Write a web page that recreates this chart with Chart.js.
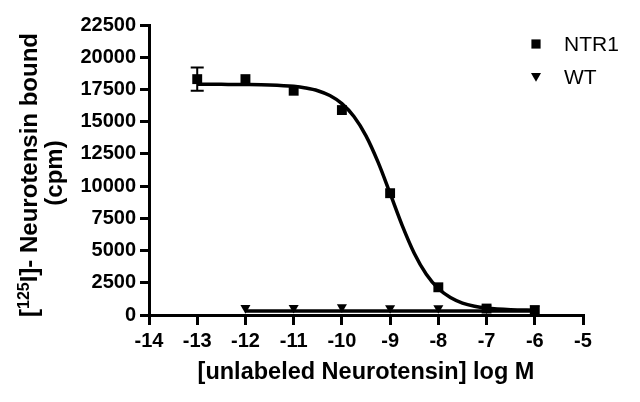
<!DOCTYPE html>
<html>
<head>
<meta charset="utf-8">
<script src="https://cdn.jsdelivr.net/npm/chart.js@4.4.1/dist/chart.umd.min.js"></script>
<style>
  html, body { margin: 0; padding: 0; background: #fff; }
  #c { display: block; }
</style>
</head>
<body>
<canvas id="c" width="640" height="402"></canvas>
<script>
// ---------- data ----------
const logConc = [-13, -12, -11, -10, -9, -8, -7, -6];
const ntr1 = [18300, 18300, 17400, 15900, 9450, 2150, 500, 380];
const ntr1Err = [900, 0, 0, 0, 0, 0, 0, 0];

const wtConc = [-12, -11, -10, -9, -8, -7, -6];
const wt = [550, 560, 600, 540, 540, 520, 500];

// fitted curve
const curveX = [-13, -12.5, -12, -11.5, -11, -10.75, -10.5, -10.25, -10, -9.75, -9.5, -9.25, -9, -8.75, -8.5, -8.25, -8, -7.75, -7.5, -7.25, -7, -6.5, -6];
const curveY = [17900, 17895, 17885, 17850, 17740, 17610, 17400, 17025, 16400, 15400, 13900, 11860, 9430, 6950, 4790, 3160, 2050, 1350, 925, 680, 540, 410, 370];

const wtFitX = [-12, -6];
const wtFitY = [320, 320];

const xTicks = [-14, -13, -12, -11, -10, -9, -8, -7, -6, -5];
const yTicks = [0, 2500, 5000, 7500, 10000, 12500, 15000, 17500, 20000, 22500];

const seriesNames = ['NTR1', 'WT'];
const xTitle = '[unlabeled Neurotensin] log M';
const yTitleParts = ['[', '125', 'I]- Neurotensin bound'];
const yTitleLine2 = '(cpm)';

// ---------- helpers ----------
const FAMILY = '"Liberation Sans", Arial, Helvetica, sans-serif';
const zip = (xs, ys) => xs.map((x, i) => ({ x: x, y: ys[i] }));

const errorBars = {
  id: 'errorBars',
  afterDatasetsDraw(chart) {
    const ctx = chart.ctx;
    const xs = chart.scales.x, ys = chart.scales.y;
    ctx.save();
    ctx.strokeStyle = '#000';
    ctx.lineWidth = 2;
    logConc.forEach((lc, i) => {
      const e = ntr1Err[i];
      if (!e) return;
      const px = xs.getPixelForValue(lc);
      const top = ys.getPixelForValue(ntr1[i] + e);
      const bot = ys.getPixelForValue(ntr1[i] - e);
      ctx.beginPath();
      ctx.moveTo(px, top); ctx.lineTo(px, bot);
      ctx.moveTo(px - 6.5, top); ctx.lineTo(px + 6.5, top);
      ctx.moveTo(px - 6.5, bot); ctx.lineTo(px + 6.5, bot);
      ctx.stroke();
    });
    ctx.restore();
  }
};

const yTitlePlugin = {
  id: 'yTitlePlugin',
  afterDraw(chart) {
    const ctx = chart.ctx;
    const mainFont = 'bold 24px ' + FAMILY;
    const supFont = 'bold 16px ' + FAMILY;
    const parts = [
      { t: yTitleParts[0], f: mainFont, dy: 0 },
      { t: yTitleParts[1], f: supFont, dy: -8 },
      { t: yTitleParts[2], f: mainFont, dy: 0 }
    ];
    ctx.save();
    ctx.fillStyle = '#000';
    let total = 0;
    parts.forEach(p => { ctx.font = p.f; p.w = ctx.measureText(p.t).width; total += p.w; });
    ctx.translate(37, 175);
    ctx.rotate(-Math.PI / 2);
    ctx.textBaseline = 'alphabetic';
    ctx.textAlign = 'left';
    let u = -total / 2;
    parts.forEach(p => { ctx.font = p.f; ctx.fillText(p.t, u, p.dy); u += p.w; });
    ctx.restore();

    ctx.save();
    ctx.fillStyle = '#000';
    ctx.font = mainFont;
    ctx.translate(62, 173);
    ctx.rotate(-Math.PI / 2);
    ctx.textAlign = 'center';
    ctx.textBaseline = 'alphabetic';
    ctx.fillText(yTitleLine2, 0, 0);
    ctx.restore();
  }
};

const legendPlugin = {
  id: 'legendPlugin',
  afterDraw(chart) {
    const ctx = chart.ctx;
    ctx.save();
    ctx.fillStyle = '#000';
    ctx.strokeStyle = '#000';
    Chart.helpers.drawPoint(ctx, { pointStyle: 'rect', radius: 6.5, rotation: 0, borderWidth: 0 }, 536, 44);
    ctx.fillStyle = '#000';
    Chart.helpers.drawPoint(ctx, { pointStyle: 'triangle', radius: 5.8, rotation: 180, borderWidth: 0 }, 536, 76);
    ctx.fillStyle = '#000';
    ctx.font = '21px ' + FAMILY;
    ctx.textBaseline = 'middle';
    ctx.textAlign = 'left';
    ctx.fillText(seriesNames[0], 564, 45);
    ctx.fillText(seriesNames[1], 564, 78);
    ctx.restore();
  }
};

const tickFont = { family: FAMILY, size: 20, weight: 'bold' };

new Chart(document.getElementById('c'), {
  type: 'scatter',
  data: {
    datasets: [
      {
        label: 'NTR1 fit',
        data: zip(curveX, curveY),
        showLine: true,
        borderColor: '#000',
        borderWidth: 3.5,
        pointRadius: 0,
        cubicInterpolationMode: 'monotone',
        fill: false,
        order: 3
      },
      {
        label: 'WT fit',
        data: zip(wtFitX, wtFitY),
        showLine: true,
        borderColor: '#000',
        borderWidth: 3.5,
        pointRadius: 0,
        fill: false,
        order: 4
      },
      {
        label: seriesNames[0],
        data: zip(logConc, ntr1),
        showLine: false,
        pointStyle: 'rect',
        pointRadius: 7,
        pointBackgroundColor: '#000',
        pointBorderWidth: 0,
        order: 1
      },
      {
        label: seriesNames[1],
        data: zip(wtConc, wt),
        showLine: false,
        pointStyle: 'triangle',
        pointRotation: 180,
        pointRadius: 5.8,
        pointBackgroundColor: '#000',
        pointBorderWidth: 0,
        order: 2
      }
    ]
  },
  options: {
    responsive: false,
    animation: false,
    devicePixelRatio: 1,
    layout: { padding: { top: 25, right: 57, bottom: 0, left: 0 } },
    plugins: {
      legend: { display: false },
      tooltip: { enabled: false }
    },
    scales: {
      x: {
        type: 'linear',
        min: xTicks[0],
        max: xTicks[xTicks.length - 1],
        afterBuildTicks: s => { s.ticks = xTicks.map(v => ({ value: v })); },
        afterFit: s => { s.height = 87; },
        ticks: { font: tickFont, color: '#000', padding: 4, autoSkip: false, maxRotation: 0, callback: v => String(v) },
        grid: { drawOnChartArea: false, drawTicks: true, tickLength: 10, lineWidth: 3, color: '#000' },
        border: { display: true, width: 3, color: '#000' },
        title: {
          display: true,
          text: xTitle,
          color: '#000',
          font: { family: FAMILY, size: 23.5, weight: 'bold' },
          padding: { top: 0, bottom: 15 }
        }
      },
      y: {
        type: 'linear',
        min: yTicks[0],
        max: yTicks[yTicks.length - 1],
        afterBuildTicks: s => { s.ticks = yTicks.map(v => ({ value: v })); },
        afterFit: s => { s.width = 149; },
        ticks: { font: tickFont, color: '#000', padding: 4, autoSkip: false, callback: v => String(v) },
        grid: { drawOnChartArea: false, drawTicks: true, tickLength: 9, lineWidth: 3, color: '#000' },
        border: { display: true, width: 3, color: '#000' }
      }
    }
  },
  plugins: [errorBars, yTitlePlugin, legendPlugin]
});
</script>
</body>
</html>
